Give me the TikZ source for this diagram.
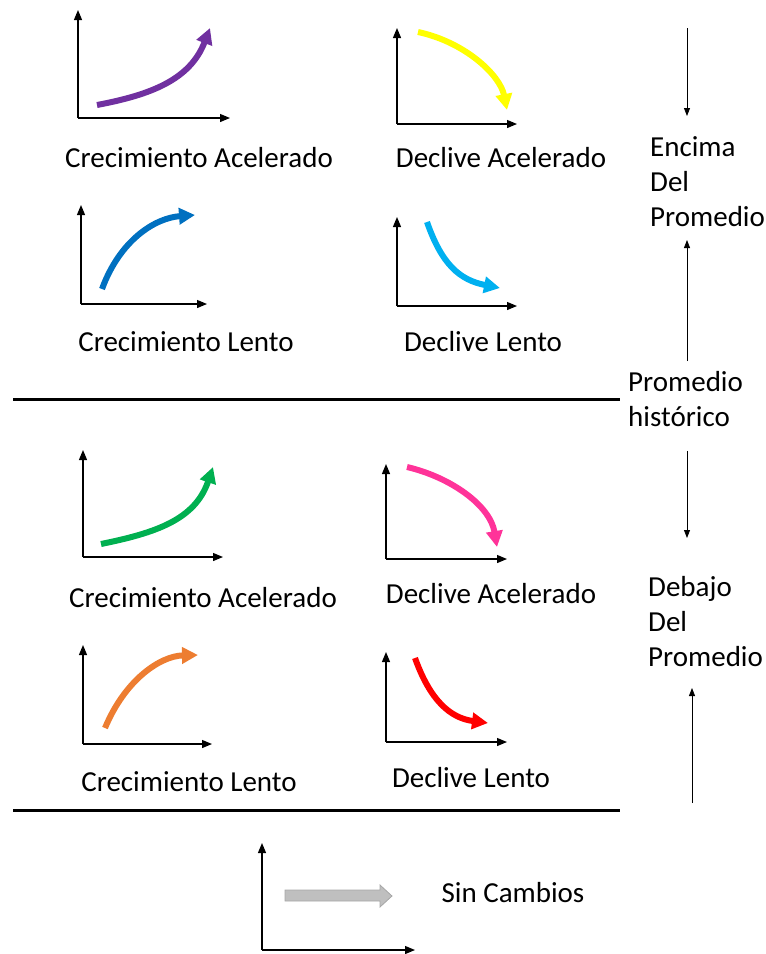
\documentclass[tikz,border=0pt]{standalone}
\usepackage{fontspec}
\setmainfont{Carlito}
\usetikzlibrary{arrows.meta}

\definecolor{trendpurple}{HTML}{7030A0}
\definecolor{trendyellow}{HTML}{FFFF00}
\definecolor{trendblue}{HTML}{0070C0}
\definecolor{trendcyan}{HTML}{00B0F0}
\definecolor{trendgreen}{HTML}{00B050}
\definecolor{trendpink}{HTML}{FF3399}
\definecolor{trendorange}{HTML}{ED7D31}
\definecolor{trendred}{HTML}{FF0000}
\definecolor{flatfill}{HTML}{BFBFBF}
\definecolor{flatdraw}{HTML}{A6A6A6}

\begin{document}
\begin{tikzpicture}[x=1pt, y=-1pt,
  every node/.style={font=\fontsize{29}{35}\selectfont, inner sep=0pt},
  axis/.style={line width=1.2pt, -{Triangle[length=10pt,width=8pt]}},
  trend/.style={line width=6pt, -{Triangle[length=16pt,width=16pt]}},
  divider/.style={line width=3pt},
  side/.style={line width=0.8pt, -{Triangle[length=8pt,width=6pt]}}]
\useasboundingbox (0,0) rectangle (766,954);

% define axes (name/x/y/top/right)
\foreach \n/\x/\y/\t/\r in {ca/78/118/10/230, da/397/124/28/517,
    cl/81/304/205/207, dl/397/306/217/517,
    cb/83/557/450/223, db/386/559/464/507,
    lb/83/744/645/212, eb/386/742/652/507,
    sc/262/950/843/415}
{
  \coordinate (o\n) at (\x,\y);
  \draw[axis] (o\n) -- (\x,\t);
  \draw[axis] (o\n) -- (\r,\y);
}

% define trend curves
\draw[trend, trendpurple] (97,105) .. controls (150,95) and (190,80) .. (210,28);
\draw[trend, trendyellow] (418,32) .. controls (465,42) and (500,75) .. (507,110);
\draw[trend, trendblue] (102,289) .. controls (120,240) and (155,218) .. (195,215);
\draw[trend, trendcyan] (427,222) .. controls (442,265) and (460,280) .. (500,288);
\draw[trend, trendgreen] (101,544) .. controls (155,533) and (195,520) .. (213,467);
\draw[trend, trendpink] (407,467) .. controls (450,477) and (490,505) .. (497,547);
\draw[trend, trendorange] (105,728) .. controls (125,680) and (160,656) .. (198,655);
\draw[trend, trendred] (415,658) .. controls (430,700) and (450,718) .. (488,723);

% gray flat arrow
\filldraw[fill=flatfill, draw=flatdraw, line width=0.8pt]
  (285,890) -- (380,890) -- (380,885) -- (392,896) -- (380,907) -- (380,901)
  -- (285,901) -- cycle;

% define labels
\node (labca) at (199,158) {Crecimiento Acelerado};
\node (labda) at (501,158) {Declive Acelerado};
\node (labcl) at (186,342) {Crecimiento Lento};
\node (labdl) at (483,342) {Declive Lento};
\node (labcb) at (203,598) {Crecimiento Acelerado};
\node (labdb) at (491,594) {Declive Acelerado};
\node (lablb) at (189,782) {Crecimiento Lento};
\node (labeb) at (471,778) {Declive Lento};
\node (labsc) at (513,893) {Sin Cambios};

% define side texts
\node[anchor=west, align=left] (encima) at (650,182) {Encima\\Del\\Promedio};
\node[anchor=west, align=left] (promedio) at (628,399) {Promedio\\histórico};
\node[anchor=west, align=left] (debajo) at (648,622) {Debajo\\Del\\Promedio};

% define divider lines
\draw[divider] (13,399) -- (620,399);
\draw[divider] (13,810) -- (620,810);

% define side arrows
\coordinate (rx) at (687,0);
\coordinate (top) at (687,28);
\coordinate (bot) at (692,803);
\draw[side] (top) -- (687,116);
\draw[side, shorten <=10pt] (promedio.north -| rx) -- (687,240);
\draw[side, shorten <=24pt] (promedio.south -| rx) -- (687,538);
\draw[side] (bot) -- (692,688);

\end{tikzpicture}
\end{document}
